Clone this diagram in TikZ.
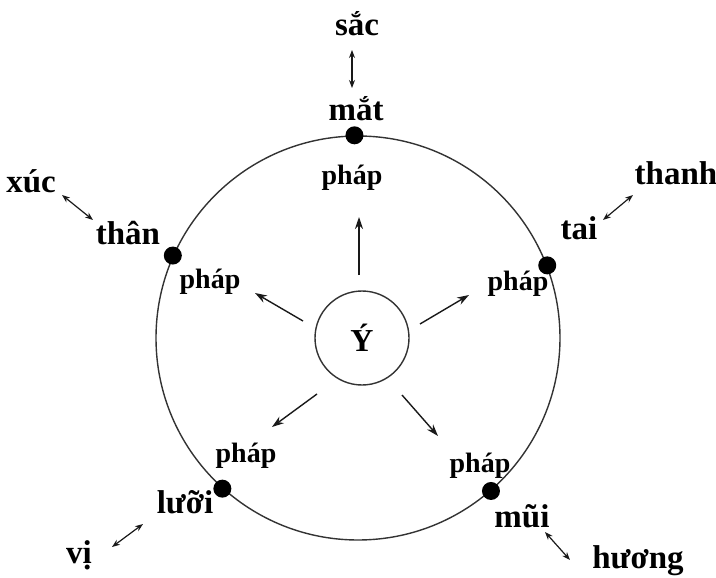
\documentclass[tikz,border=0pt]{standalone}
\usepackage{fontspec}
\setmainfont{Liberation Serif}
\usetikzlibrary{arrows.meta}
\begin{document}
\begin{tikzpicture}[x=1pt,y=-1pt,>={Stealth[length=12pt,width=8pt]},
  sense/.style={font=\fontsize{33}{33}\selectfont\bfseries,anchor=base,inner sep=0pt},
  phap/.style={font=\fontsize{28}{28}\selectfont\bfseries,anchor=base,inner sep=0pt},
  dot/.style={circle,fill=black,minimum size=18pt,inner sep=0pt},
  arr/.style={->,line width=1.4pt,draw=black!90},
  link/.style={{Stealth[length=8pt,width=6pt]}-{Stealth[length=8pt,width=6pt]},
               line width=1.2pt,draw=black!90}]
\useasboundingbox (0,0) rectangle (716,578);
\node[circle,draw=black!80,line width=1.4pt,minimum size=404pt,inner sep=0pt] (ring) at (358,338) {};
\node[circle,draw=black!80,line width=1.4pt,minimum size=94pt,inner sep=0pt,
      font=\fontsize{32}{32}\selectfont\bfseries] (yi) at (362,338) {Ý};
% five doors on the ring
\node[dot] (dmat) at (ring.91.7) {};
\node[dot] (dtai) at (ring.21.6) {};
\node[dot] (dthan) at (ring.156.4) {};
\node[dot] (dluoi) at (ring.228.8) {};
\node[dot] (dmui) at (ring.311.2) {};
% organs and their objects
\node[sense] (mat) at (356,121) {mắt};
\node[sense] (sac) at (357,36) {sắc};
\node[sense] (tai) at (579,239) {tai};
\node[sense] (thanh) at (676,185) {thanh};
\node[sense] (than) at (128,244) {thân};
\node[sense] (xuc) at (31,193) {xúc};
\node[sense] (luoi) at (185,513) {lưỡi};
\node[sense] (vi) at (79,563) {vị};
\node[sense] (mui) at (522,527) {mũi};
\node[sense] (huong) at (638,568) {hương};
% dharma labels inside the ring
\node[phap] (pmat) at (352,185) {pháp};
\node[phap] (ptai) at (518,290) {pháp};
\node[phap] (pthan) at (210,288) {pháp};
\node[phap] (pluoi) at (246,462) {pháp};
\node[phap] (pmui) at (480,472) {pháp};
% arrow ends
\coordinate (amat0) at (359,275);  \coordinate (amat1) at (359,217);
\coordinate (athan0) at (303,321); \coordinate (athan1) at (255,293);
\coordinate (atai0) at (420,324);  \coordinate (atai1) at (469,295);
\coordinate (aluoi0) at (317,394); \coordinate (aluoi1) at (272,427);
\coordinate (amui0) at (402,395);  \coordinate (amui1) at (438,436);
\draw[arr] (amat0)--(amat1);
\draw[arr] (athan0)--(athan1);
\draw[arr] (atai0)--(atai1);
\draw[arr] (aluoi0)--(aluoi1);
\draw[arr] (amui0)--(amui1);
\coordinate (lmat0) at (352,50);   \coordinate (lmat1) at (352,88);
\coordinate (ltai0) at (633,195);  \coordinate (ltai1) at (603,220);
\coordinate (lthan0) at (62,195);  \coordinate (lthan1) at (93,220);
\coordinate (lluoi0) at (112,547); \coordinate (lluoi1) at (143,524);
\coordinate (lmui0) at (545,532);  \coordinate (lmui1) at (570,560);
\draw[link] (lmat0)--(lmat1);
\draw[link] (ltai0)--(ltai1);
\draw[link] (lthan0)--(lthan1);
\draw[link] (lluoi0)--(lluoi1);
\draw[link] (lmui0)--(lmui1);
\end{tikzpicture}
\end{document}
